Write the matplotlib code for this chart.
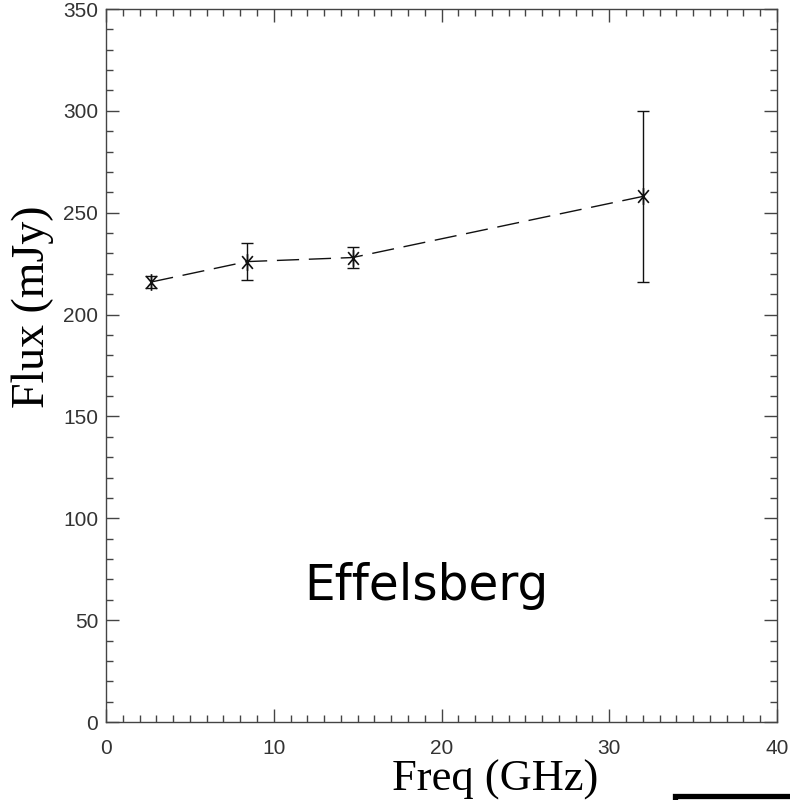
import matplotlib
matplotlib.use("Agg")
import numpy as np
import matplotlib.pyplot as plt
from matplotlib.ticker import MultipleLocator
from matplotlib.patches import Rectangle
from matplotlib.path import Path

freq = [2.7, 8.4, 14.7, 32.0]
flux = [216, 226, 228, 258]
err_lo = [3, 9, 5, 42]
err_hi = [3, 9, 5, 42]
label_text = "Effelsberg"

# IDL-like asterisk: vertical stroke plus two diagonals
a = np.deg2rad(40)
sx, sy = np.sin(a), np.cos(a)
star = Path([(0, -1), (0, 1), (-sx, -sy), (sx, sy), (-sx, sy), (sx, -sy)],
            [Path.MOVETO, Path.LINETO, Path.MOVETO, Path.LINETO, Path.MOVETO, Path.LINETO])

fig = plt.figure(figsize=(7.9, 8.0), dpi=100)
ax = fig.add_axes([106/790, 1-722/800, (777-106)/790, (722-9)/800])

ax.errorbar(freq, flux, yerr=[err_lo, err_hi], fmt='none', ecolor='#111111',
            elinewidth=1.0, capsize=4.5, capthick=1.0)
ax.plot(freq, flux, color='#111111', linestyle=(0, (16, 7)), linewidth=1.0,
        marker=star, markersize=12, markeredgewidth=1.2,
        markerfacecolor='none', markeredgecolor='#111111')

ax.set_xlim(0, 40)
ax.set_ylim(0, 350)
ax.xaxis.set_major_locator(MultipleLocator(10))
ax.xaxis.set_minor_locator(MultipleLocator(1))
ax.yaxis.set_major_locator(MultipleLocator(50))
ax.yaxis.set_minor_locator(MultipleLocator(10))
ax.tick_params(which='both', direction='in', top=True, right=True,
               color='#444444', width=1.0)
ax.tick_params(which='major', length=9.4, labelsize=15, labelcolor='#333333')
ax.tick_params(which='minor', length=5)
ax.tick_params(axis='y', which='major', pad=5.5)
ax.tick_params(axis='x', which='major', pad=12)
for lab in ax.get_xticklabels() + ax.get_yticklabels():
    lab.set_family('Liberation Sans')
for s in ax.spines.values():
    s.set_color('#444444')
    s.set_linewidth(1.0)

fig.text(495.5/790, 1-791/800, "Freq (GHz)", family='Liberation Serif',
         fontsize=32, ha='center', va='baseline')
fig.text(33/790, 1-306.5/800, "Flux (mJy)", family='Liberation Serif',
         fontsize=33, ha='center', va='center', rotation=90)

ax.text(19.07, 59.9, label_text, fontsize=35, family='DejaVu Sans',
        ha='center', va='baseline')

fig.patches.append(Rectangle((675/790, -0.1), 0.5, (800-796)/800 + 0.1,
                             transform=fig.transFigure, fill=False,
                             edgecolor='black', linewidth=3.8))

fig.savefig("out.png", dpi=100)
